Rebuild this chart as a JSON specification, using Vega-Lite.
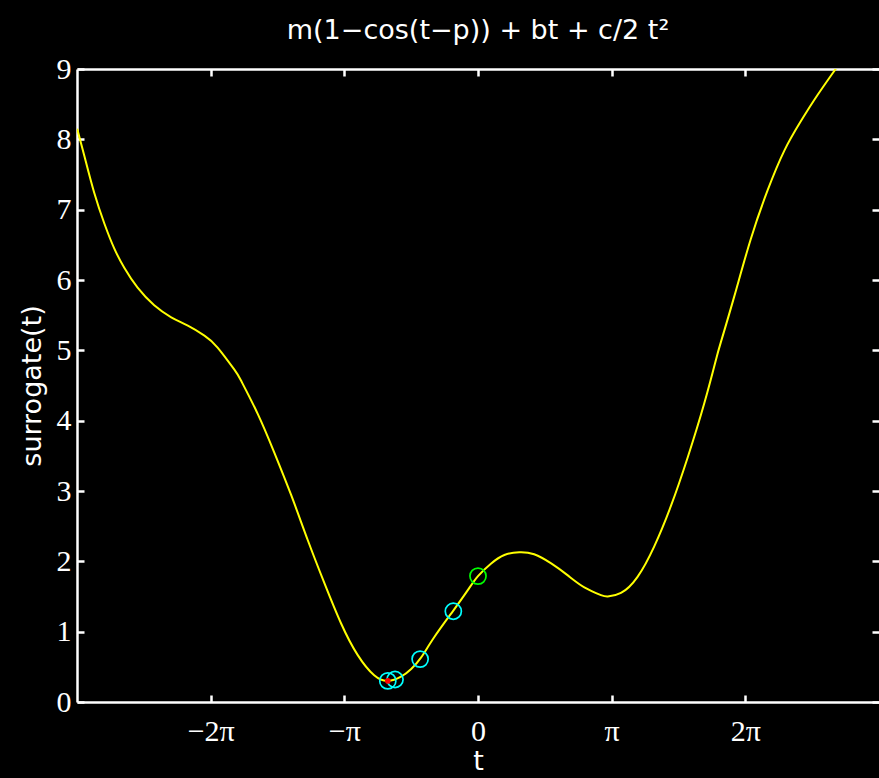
{
  "$schema": "https://vega.github.io/schema/vega-lite/v6.json",
  "autosize": "none",
  "width": 802,
  "height": 633,
  "padding": {"left": 77, "top": 69, "right": 0, "bottom": 76},
  "background": "#000000",
  "title": {
    "text": "m(1−cos(t−p)) + bt + c/2 t²",
    "font": "DejaVu Sans",
    "fontSize": 27,
    "fontWeight": "normal",
    "color": "#ffffff",
    "baseline": "alphabetic",
    "offset": -12,
    "anchor": "middle"
  },
  "datasets": {
    "curve": [
      {"t": -9.42, "v": 8.15}, {"t": -9.25, "v": 7.76}, {"t": -9.02, "v": 7.24},
      {"t": -8.78, "v": 6.80}, {"t": -8.55, "v": 6.45}, {"t": -8.31, "v": 6.17},
      {"t": -8.00, "v": 5.89}, {"t": -7.61, "v": 5.64}, {"t": -7.21, "v": 5.47},
      {"t": -6.82, "v": 5.35}, {"t": -6.43, "v": 5.21}, {"t": -6.12, "v": 5.04},
      {"t": -5.73, "v": 4.73}, {"t": -5.57, "v": 4.57}, {"t": -5.18, "v": 4.10},
      {"t": -4.79, "v": 3.55}, {"t": -4.39, "v": 2.94}, {"t": -4.00, "v": 2.30},
      {"t": -3.61, "v": 1.69}, {"t": -3.22, "v": 1.12}, {"t": -2.83, "v": 0.67},
      {"t": -2.44, "v": 0.38}, {"t": -2.12, "v": 0.30}, {"t": -1.81, "v": 0.36},
      {"t": -1.57, "v": 0.47}, {"t": -1.34, "v": 0.63}, {"t": -1.03, "v": 0.92},
      {"t": -0.58, "v": 1.30}, {"t": -0.24, "v": 1.59}, {"t": 0.00, "v": 1.79},
      {"t": 0.31, "v": 1.97}, {"t": 0.62, "v": 2.09}, {"t": 0.97, "v": 2.13},
      {"t": 1.32, "v": 2.10}, {"t": 1.72, "v": 1.97}, {"t": 2.11, "v": 1.80},
      {"t": 2.50, "v": 1.63}, {"t": 2.89, "v": 1.52}, {"t": 3.05, "v": 1.50},
      {"t": 3.36, "v": 1.55}, {"t": 3.75, "v": 1.78}, {"t": 4.14, "v": 2.21},
      {"t": 4.53, "v": 2.78}, {"t": 4.93, "v": 3.48}, {"t": 5.32, "v": 4.25},
      {"t": 5.59, "v": 4.86}, {"t": 5.71, "v": 5.12}, {"t": 6.02, "v": 5.76},
      {"t": 6.41, "v": 6.58}, {"t": 6.81, "v": 7.28}, {"t": 7.20, "v": 7.84},
      {"t": 7.59, "v": 8.26}, {"t": 7.98, "v": 8.63}, {"t": 8.37, "v": 8.97},
      {"t": 8.45, "v": 9.04}
    ],
    "probes": [
      {"t": -2.12, "v": 0.30, "kind": "probe"},
      {"t": -1.95, "v": 0.32, "kind": "probe"},
      {"t": -1.36, "v": 0.61, "kind": "probe"},
      {"t": -0.58, "v": 1.29, "kind": "probe"},
      {"t": 0.0, "v": 1.79, "kind": "current"}
    ],
    "best": [
      {"t": -2.12, "v": 0.30}
    ]
  },
  "resolve": {"axis": {"x": "independent", "y": "independent"}},
  "layer": [
    {
      "data": {"name": "curve"},
      "mark": {"type": "line", "color": "#ffff00", "strokeWidth": 2, "interpolate": "natural", "clip": true},
      "encoding": {
        "x": {
          "field": "t", "type": "quantitative",
          "scale": {"domain": [-9.42478, 9.42478], "nice": false, "zero": false},
          "axis": {
            "orient": "bottom",
            "values": [-6.283185307, -3.141592654, 0, 3.141592654, 6.283185307],
            "labelExpr": "datum.value < -5 ? '−2π' : datum.value < -1 ? '−π' : datum.value < 1 ? '0' : datum.value < 5 ? 'π' : '2π'",
            "labelPadding": 21,
            "title": "t",
            "titlePadding": 2
          }
        },
        "y": {
          "field": "v", "type": "quantitative",
          "scale": {"domain": [0, 9], "nice": false, "zero": false},
          "axis": {
            "orient": "left",
            "values": [0, 1, 2, 3, 4, 5, 6, 7, 8, 9],
            "labelPadding": 13,
            "title": "surrogate(t)",
            "titlePadding": 10
          }
        }
      }
    },
    {
      "data": {"name": "probes"},
      "mark": {"type": "point", "shape": "circle", "filled": false, "size": 260, "strokeWidth": 1.7, "opacity": 1},
      "encoding": {
        "x": {"field": "t", "type": "quantitative", "axis": null},
        "y": {"field": "v", "type": "quantitative", "axis": null},
        "color": {
          "field": "kind", "type": "nominal",
          "scale": {"domain": ["probe", "current"], "range": ["#00ffff", "#00ff00"]},
          "legend": null
        }
      }
    },
    {
      "data": {"name": "best"},
      "mark": {"type": "point", "shape": "circle", "filled": true, "size": 32, "color": "#ff0000", "opacity": 1},
      "encoding": {
        "x": {"field": "t", "type": "quantitative", "axis": null},
        "y": {"field": "v", "type": "quantitative", "axis": null}
      }
    },
    {
      "data": {"name": "best"},
      "mark": {"type": "point", "opacity": 0},
      "encoding": {
        "x": {
          "field": "t", "type": "quantitative",
          "axis": {
            "orient": "top",
            "values": [-6.283185307, -3.141592654, 0, 3.141592654, 6.283185307],
            "labels": false,
            "title": null
          }
        },
        "y": {
          "field": "v", "type": "quantitative",
          "axis": {
            "orient": "right",
            "values": [0, 1, 2, 3, 4, 5, 6, 7, 8, 9],
            "labels": false,
            "domain": false,
            "title": null
          }
        }
      }
    }
  ],
  "config": {
    "view": {"stroke": null},
    "axis": {
      "grid": false,
      "domainColor": "#ffffff",
      "domainWidth": 2.5,
      "tickColor": "#ffffff",
      "tickWidth": 2.5,
      "tickSize": -7,
      "labelColor": "#ffffff",
      "labelFont": "Liberation Serif",
      "labelFontSize": 30,
      "labelFlush": false,
      "labelOverlap": false,
      "titleColor": "#ffffff",
      "titleFont": "DejaVu Sans",
      "titleFontSize": 27,
      "titleFontWeight": "normal"
    }
  }
}
